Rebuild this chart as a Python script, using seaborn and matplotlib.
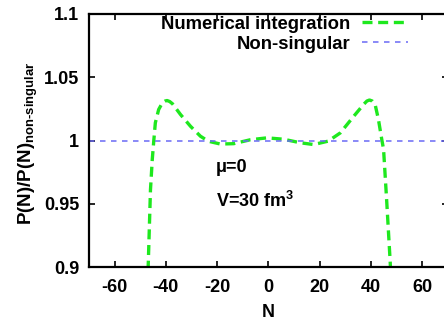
import matplotlib
matplotlib.use("Agg")
import matplotlib.pyplot as plt
import seaborn as sns
import pandas as pd
from matplotlib.ticker import FixedLocator, FuncFormatter

# Ratio of the numerically integrated P(N) to the non-singular approximation
n_values = [-48.0, -46.9, -46.0, -45.3, -44.7, -44.1, -42.8, -41.3, -40.3, -39.5,
            -38.5, -37.4, -34.3, -30.4, -26.5, -23.4, -18.7, -13.5, -7.0, -0.5,
            6.0, 12.5, 17.7, 23.4, 28.1, 33.3, 37.2, 38.5, 39.5, 40.6, 41.7,
            43.0, 44.3, 45.0, 46.2, 47.6, 48.5]
ratio_numerical = [0.860, 0.900, 0.961, 0.985, 1.000, 1.014, 1.0245, 1.030, 1.0312, 1.0316,
                   1.0308, 1.029, 1.0206, 1.0113, 1.0034, 0.9994, 0.9972, 0.9975, 1.0006, 1.0021,
                   1.0010, 0.9982, 0.9968, 0.9995, 1.006, 1.019, 1.0285, 1.0312, 1.032, 1.0312, 1.0285,
                   1.0166, 1.0008, 0.993, 0.953, 0.9036, 0.860]

n_flat = [-70, 70]
ratio_nonsingular = [1.0, 1.0]

x_ticks = [-60, -40, -20, 0, 20, 40, 60]
y_ticks = [0.9, 0.95, 1.0, 1.05, 1.1]

sns.set_theme(style="white")
plt.rcParams["font.family"] = ["Liberation Sans", "DejaVu Sans"]
plt.rcParams["font.weight"] = "bold"
plt.rcParams["text.color"] = "black"
plt.rcParams["axes.unicode_minus"] = False
plt.rcParams["mathtext.fontset"] = "custom"
plt.rcParams["mathtext.rm"] = "Liberation Sans:bold"
plt.rcParams["mathtext.it"] = "Liberation Sans:bold"
plt.rcParams["mathtext.bf"] = "Liberation Sans:bold"

df_num = pd.DataFrame({"N": n_values, "ratio": ratio_numerical})
df_ns = pd.DataFrame({"N": n_flat, "ratio": ratio_nonsingular})

fig = plt.figure(figsize=(4.44, 3.28), dpi=100)
W, H = 444, 328
ax = fig.add_axes([89 / W, 1 - 267 / H, (447.6 - 89) / W, 253 / H])

sns.lineplot(data=df_num, x="N", y="ratio", ax=ax, color="#1ee81e", linewidth=2.4,
             label="Numerical integration", sort=False)
ax.lines[-1].set_dashes([3.0, 1.7])
sns.lineplot(data=df_ns, x="N", y="ratio", ax=ax, color="#6a6af5", linewidth=1.1,
             label="Non-singular", sort=False)
ax.lines[-1].set_dashes([3.6, 3.6])

ax.set_xlim(-70, 70)
ax.set_ylim(0.9, 1.1)
ax.xaxis.set_major_locator(FixedLocator(x_ticks))
ax.yaxis.set_major_locator(FixedLocator(y_ticks))
ax.xaxis.set_major_formatter(FuncFormatter(lambda v, p: f"{v:g}"))
ax.yaxis.set_major_formatter(FuncFormatter(lambda v, p: f"{v:g}"))

for s in ax.spines.values():
    s.set_visible(True)
    s.set_color("black")
    s.set_linewidth(1.6)

ax.tick_params(which="major", direction="in", length=4, width=1.2, color="black",
               top=True, right=True, bottom=True, left=True, labelsize=13,
               labelcolor="black")
ax.tick_params(axis="x", pad=8.5)
ax.tick_params(axis="y", pad=7)
for lbl in ax.get_xticklabels() + ax.get_yticklabels():
    lbl.set_fontweight("bold")

ax.set_xlabel("N", fontsize=13, fontweight="bold", color="black")
ax.set_ylabel(r"P(N)/P(N)$_{\mathrm{non\text{-}singular}}$", fontsize=13.5,
              fontweight="bold", color="black")
ax.xaxis.set_label_coords(0.5, -0.145)
ax.yaxis.set_label_coords(-0.137, 0.49)

ax.text(-20.5, 0.9787, "μ=0", fontsize=13, fontweight="bold", color="black",
        va="center", ha="left")
ax.text(-20.5, 0.9526, r"V=30 fm$^{3}$", fontsize=13, fontweight="bold",
        color="black", va="center", ha="left")

leg = ax.legend(loc="upper right", bbox_to_anchor=(0.8896, 0.993), frameon=False,
                markerfirst=False, handlelength=2.5, handletextpad=0.6,
                labelspacing=0.15, borderpad=0, borderaxespad=0,
                prop={"size": 13.3, "weight": "bold"})
for t in leg.get_texts():
    t.set_color("black")

fig.savefig("out.png", dpi=100)
